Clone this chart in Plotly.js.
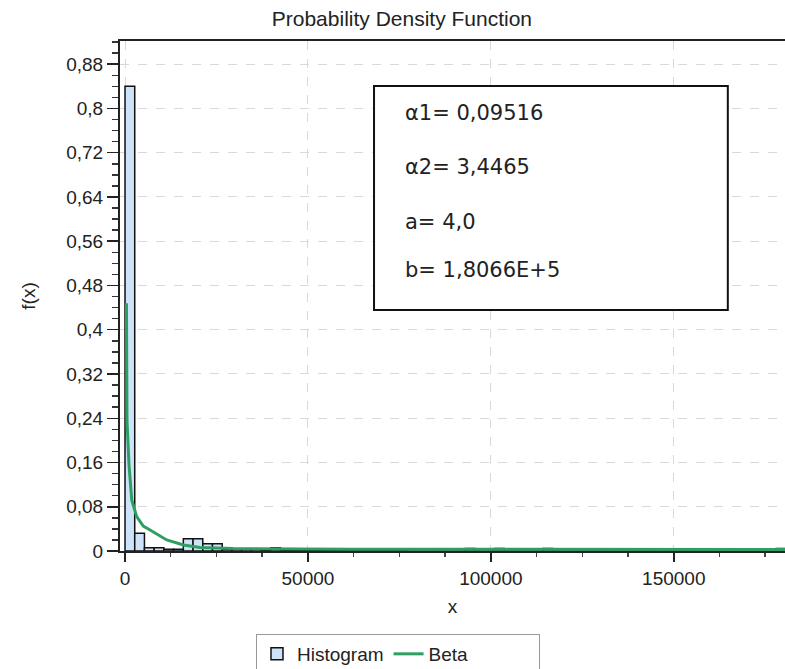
<!DOCTYPE html>
<html>
<head>
<meta charset="utf-8">
<script src="https://cdn.plot.ly/plotly-3.0.1.min.js"></script>
<style>html,body{margin:0;padding:0;background:#fff;}#chart{width:785px;height:669px;}</style>
</head>
<body>
<div id="chart"></div>
<script>
// Histogram: 68 equal bins between the fitted bounds
const binLo = 4;
const binHi = 180660;
const histDensity = [
  0.84, 0.032, 0.006, 0.006, 0.003, 0.003, 0.022, 0.022, 0.013, 0.013,
  0.003, 0.003, 0.003, 0.003, 0.002, 0.006, 0.0015, 0.0015, 0.0015, 0.0015,
  0.0015, 0.0015, 0.0015, 0.0015, 0.0015, 0.0015, 0.0015, 0.0015, 0.0015, 0,
  0, 0, 0, 0, 0, 0.0045, 0, 0, 0.0045, 0,
  0, 0, 0, 0.0045, 0, 0, 0, 0, 0, 0,
  0, 0, 0, 0, 0, 0, 0, 0, 0, 0,
  0, 0, 0, 0, 0, 0, 0, 0.0045
];

// Fitted Beta curve
const betaX = [400, 500, 550, 1100, 1500, 1850, 3200, 5000, 6850, 11400, 16000, 20500, 29600, 38800, 61600, 100000, 150000, 180600];
const betaY = [0.448, 0.30, 0.235, 0.155, 0.128, 0.092, 0.062, 0.045, 0.038, 0.020, 0.011, 0.0065, 0.0045, 0.0038, 0.0032, 0.003, 0.0028, 0.0027];

// Axis ticks
const yTickVals = [0, 0.08, 0.16, 0.24, 0.32, 0.4, 0.48, 0.56, 0.64, 0.72, 0.8, 0.88];
const yTickText = ["0", "0,08", "0,16", "0,24", "0,32", "0,4", "0,48", "0,56", "0,64", "0,72", "0,8", "0,88"];
const xTickVals = [0, 50000, 100000, 150000];
const xTickText = ["0", "50000", "100000", "150000"];

// Parameters box
const paramLines = ["\u03b11= 0,09516", "\u03b12= 3,4465", "a= 4,0", "b= 1,8066E+5"];

const binWidth = (binHi - binLo) / histDensity.length;
const binCenters = histDensity.map((_, i) => binLo + (i + 0.5) * binWidth);

const tickFont = {family: "Liberation Sans, Arial, sans-serif", size: 19, color: "#222"};

const traces = [
  {
    type: "bar", name: "Histogram",
    x: binCenters, y: histDensity, width: binWidth,
    marker: {color: "#cce3f8", line: {color: "#111", width: 1.5}},
    hoverinfo: "skip"
  },
  {
    type: "scatter", mode: "lines", name: "Beta",
    x: betaX, y: betaY,
    line: {color: "#2f9e63", width: 3},
    legendwidth: 105,
    hoverinfo: "skip"
  }
];

const boxY = [0.859, 0.7535, 0.645, 0.551];
const annotations = paramLines.map((t, i) => ({
  xref: "paper", yref: "paper", x: 0.425, y: boxY[i],
  xanchor: "left", yanchor: "middle", showarrow: false,
  text: t, font: {family: "DejaVu Sans, sans-serif", size: 21, color: "#222"}
}));

const layout = {
  width: 785, height: 669,
  margin: {l: 120, r: 0, t: 41, b: 118, pad: 0, autoexpand: false},
  paper_bgcolor: "#fff", plot_bgcolor: "#fff",
  bargap: 0,
  showlegend: true,
  title: {
    text: "Probability Density Function",
    font: {family: "Liberation Sans, Arial, sans-serif", size: 21, color: "#222"},
    x: 0.512, xref: "container", xanchor: "center",
    y: 0.9725, yref: "container", yanchor: "middle"
  },
  xaxis: {
    range: [-1366, 180400],
    tickvals: xTickVals, ticktext: xTickText,
    ticks: "outside", ticklen: 9, tickwidth: 1.5, tickcolor: "#222",
    minor: {dtick: 12500, tick0: 0, ticks: "outside", ticklen: 4, tickcolor: "#444", showgrid: false},
    tickfont: tickFont,
    showline: true, linecolor: "#222", linewidth: 2, mirror: true,
    showgrid: true, gridcolor: "#d9d9d9", gridwidth: 1, griddash: "dash",
    zeroline: false,
    title: {text: "x", font: tickFont, standoff: 12}
  },
  yaxis: {
    range: [0, 0.922],
    tickvals: yTickVals, ticktext: yTickText,
    ticks: "outside", ticklen: 11, tickwidth: 1.5, tickcolor: "#222",
    minor: {dtick: 0.02, tick0: 0, ticks: "outside", ticklen: 6, tickcolor: "#333", showgrid: false},
    tickfont: tickFont,
    showline: true, linecolor: "#222", linewidth: 2, mirror: false,
    showgrid: true, gridcolor: "#d9d9d9", gridwidth: 1, griddash: "dash",
    zeroline: false,
    title: {text: "f(x)", font: tickFont, standoff: 26}
  },
  legend: {
    orientation: "h",
    x: 0.2045, xanchor: "left",
    y: -0.1627, yanchor: "top",
    bordercolor: "#999", borderwidth: 1,
    font: {family: "Liberation Sans, Arial, sans-serif", size: 19, color: "#222"},
    traceorder: "normal"
  },
  shapes: [{
    type: "rect", xref: "paper", yref: "paper",
    x0: 0.382, x1: 0.914, y0: 0.4725, y1: 0.912,
    line: {color: "#111", width: 2}, fillcolor: "#fff", layer: "above"
  }],
  annotations: annotations
};

Plotly.newPlot("chart", traces, layout, {staticPlot: true, displayModeBar: false});
</script>
</body>
</html>
